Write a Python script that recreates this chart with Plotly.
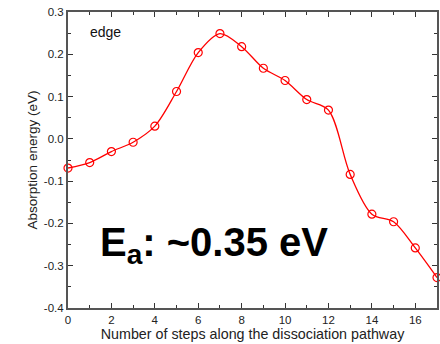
import plotly.graph_objects as go

steps = list(range(18))
energy = [-0.069, -0.056, -0.030, -0.008, 0.030, 0.112, 0.204, 0.249, 0.218,
          0.167, 0.138, 0.093, 0.068, -0.084, -0.178, -0.196, -0.258, -0.328]
x_ticks = [0, 2, 4, 6, 8, 10, 12, 14, 16]
y_ticks = [0.3, 0.2, 0.1, 0.0, -0.1, -0.2, -0.3, -0.4]
y_tick_labels = ["0.3", "0.2", "0.1", "0.0", "-0.1", "-0.2", "-0.3", "-0.4"]

fig = go.Figure()
fig.add_trace(go.Scatter(
    x=steps, y=energy, mode="lines+markers",
    line=dict(color="#ff0000", width=1.3, shape="spline", smoothing=0.9),
    marker=dict(symbol="circle-open", size=8, color="#ff0000", line=dict(width=1.2)),
    showlegend=False, cliponaxis=False,
))

FONT = "Liberation Sans, Arial, sans-serif"
axis_common = dict(
    showline=True, linecolor="#555555", linewidth=2, mirror="ticks",
    ticks="inside", ticklen=5, tickwidth=1, tickcolor="#333333",
    showgrid=False, zeroline=False, automargin=False,
    tickfont=dict(family=FONT, size=11.5, color="#222222"),
)
fig.update_xaxes(
    range=[0, 17], tickvals=x_ticks,
    minor=dict(ticks="inside", ticklen=3, dtick=1, tickcolor="#333333"),
    title=dict(text="Number of steps along the dissociation pathway",
               font=dict(family=FONT, size=14.3, color="#222222"),
               standoff=1),
    **axis_common,
)
fig.update_yaxes(
    range=[-0.4, 0.3], tickvals=y_ticks, ticktext=y_tick_labels,
    minor=dict(ticks="inside", ticklen=3, dtick=0.05, tickcolor="#333333"),
    title=dict(text="Absorption energy (eV)",
               font=dict(family=FONT, size=13.5, color="#222222"),
               standoff=3),
    **axis_common,
)

fig.add_annotation(x=0.054, y=0.933, xref="paper", yref="paper", text="edge",
                   showarrow=False, xanchor="left", yanchor="middle",
                   font=dict(family=FONT, size=14, color="#111111"))
fig.add_annotation(x=0.396, y=0.213, xref="paper", yref="paper",
                   text="<b>E<sub>a</sub>: ~0.35 eV</b>",
                   showarrow=False, xanchor="center", yanchor="middle",
                   font=dict(family=FONT, size=40, color="#000000"))

fig.update_layout(
    width=440, height=344,
    margin=dict(l=68, r=3, t=12, b=36),
    paper_bgcolor="white", plot_bgcolor="white",
)
fig.write_html(
    "out.html",
    config={"displayModeBar": False},
    post_script="document.body.style.margin='0px';document.body.style.overflow='hidden';",
)
